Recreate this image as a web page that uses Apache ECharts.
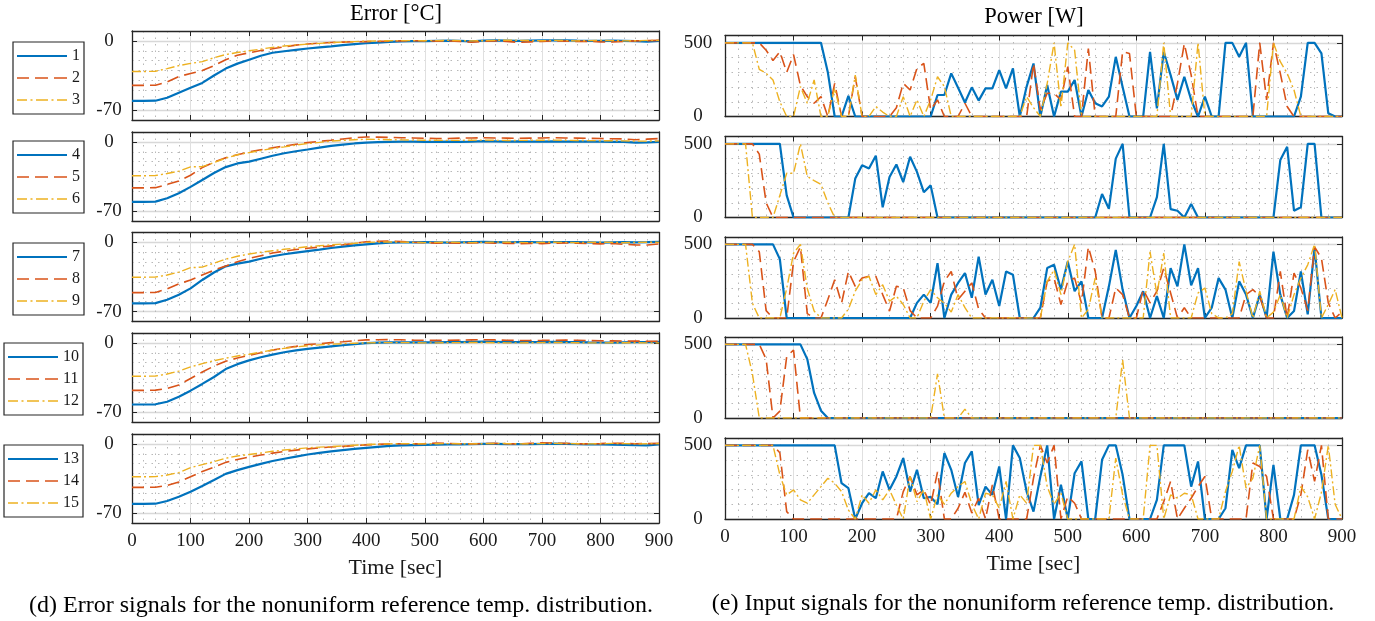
<!DOCTYPE html>
<html>
<head>
<meta charset="utf-8">
<script src="https://cdn.jsdelivr.net/npm/echarts@6/dist/echarts.min.js"></script>
<style>
  html, body { margin: 0; padding: 0; background: #fff; }
  #chart { width: 1375px; height: 621px; }
</style>
</head>
<body>
<div id="chart"></div>
<script>
const FONT = 'Liberation Serif'
const INK = '#1a1a1a'

// time bases [sec]
const errTime = [
  0, 20, 40, 60, 80, 100, 120, 140, 160, 180,
  200, 220, 240, 260, 280, 300, 320, 340, 360, 380,
  400, 420, 440, 460, 480, 500, 520, 540, 560, 580,
  600, 620, 640, 660, 680, 700, 720, 740, 760, 780,
  800, 820, 840, 860, 880,
  900]
const powTime = [
  0, 10, 20, 30, 40, 50, 60, 70, 80, 90,
  100, 110, 120, 130, 140, 150, 160, 170, 180, 190,
  200, 210, 220, 230, 240, 250, 260, 270, 280, 290,
  300, 310, 320, 330, 340, 350, 360, 370, 380, 390,
  400, 410, 420, 430, 440, 450, 460, 470, 480, 490,
  500, 510, 520, 530, 540, 550, 560, 570, 580, 590,
  600, 610, 620, 630, 640, 650, 660, 670, 680, 690,
  700, 710, 720, 730, 740, 750, 760, 770, 780, 790,
  800, 810, 820, 830, 840, 850, 860, 870, 880, 890,
  900]

const errTicks = [-70, 0]
const powTicks = [0, 500]

// error signals [°C]
const err1 = [-60.7,-60.7,-60.5,-57.5,-52.5,-47.5,-42.5,-35,-28,-23, -19,-15,-12,-10.5,-9,-7.7,-6.6,-5.5,-4.2,-3.2, -2.4,-1.8,-1,-0.5,-0.3,-0.2,0,0.2,0,-0.5, 0.3,0.5,0.3,0,0.3,0.5,0.6,0.5,0.2,0, 0,0.3,0,-0.3,-0.8, 0]
const err2 = [-45,-45,-44.8,-41.5,-36,-33,-30,-25,-19,-14.5, -12,-9.8,-8,-6,-4.3,-3.2,-2.3,-1.6,-1.2,-0.9, -0.7,-0.5,-0.3,0,0.2,0,-0.3,0,-0.5,-1.3, -0.5,0,-0.5,-1.5,-1,-0.5,0,-0.2,-0.5,-0.5, -1,-1.2,-0.5,0,0.3, 0.5]
const err3 = [-31,-31,-30.7,-28,-25,-22.8,-21,-17,-13.8,-11.8, -10,-8.3,-6.6,-5.2,-4.1,-3.3,-2.5,-1.8,-1.2,-0.7, -0.3,0,0.2,0.3,0.3,0.2,0.3,0.5,0.3,0, 0.2,0.5,0.8,0.5,0.3,0.2,0.5,0.3,0,0.3, 0.5,0.3,0,0.2,0.5, 0.5]
const err4 = [-60.6,-60.6,-60.4,-57,-52,-45.5,-38.5,-31.5,-25.5,-21.8, -20,-17,-14,-11.5,-9.5,-7.7,-5.8,-4,-2.8,-1.6, -0.7,-0.3,0,0.3,0.2,0,0,0.2,0,0.3, 0.7,0.5,0.3,0.5,0.3,0.3,0.5,0.3,0.5,0.3, 0.2,0,0,-0.7,-0.5, 0]
const err5 = [-46.5,-46.5,-46.3,-43,-39.5,-33.7,-26,-20.5,-16,-13, -10.1,-8,-6,-4.2,-2.4,-0.7,0.5,1.7,3,4.3, 5,4.8,4.5,4.2,4,3.7,3.4,3.5,3.8,4, 4.2,4,3.8,3.6,3.8,4,4.2,4,3.8,3.6, 3.4,3.2,3,2.2,2.8, 3.4]
const err6 = [-34.3,-34.3,-34,-32,-29.5,-25.3,-25,-21,-16.5,-13, -10.8,-8.7,-6.7,-5,-3.2,-1.7,-0.5,0.8,1.5,2.2, 2.7,2.5,2.2,2,1.8,1.7,1.6,1.5,1.5,1.7, 1.8,1.6,1.4,1.5,1.6,1.7,1.8,1.6,1.4,1.3, 1.2,1.2,1,0.8,0.8, 1]
const err7 = [-61.6,-61.6,-61.4,-58,-53,-46.5,-38,-30.5,-24.2,-21.5, -19.5,-16.5,-14,-12,-10.3,-8.8,-7.3,-5.7,-4.3,-3.1, -2,-1,-0.2,0,0,0.2,0,-0.3,0,0.3, 0.5,0.3,0,0.2,0.3,0,0.2,0.3,0.2,0, -0.2,0,0.2,0,0.2, 0.5]
const err8 = [-50.8,-50.8,-50.6,-47,-42,-38,-33,-28,-24,-19.5, -16.2,-13.5,-10.8,-8.8,-7.2,-6,-4.8,-3.5,-2.4,-1, 0.7,1.2,1.3,0.8,0.2,-0.3,-0.7,-0.5,-0.8,-0.5, -0.3,-0.8,-1,-1.3,-1,-1.2,-0.8,-0.5,-0.8,-1.2, -1.5,-1.2,-2,-2.5,-2.7, -1.5]
const err9 = [-35.2,-35.2,-35,-33,-30,-25.6,-25,-21,-17,-14, -11.8,-10,-8.5,-7,-5.7,-4.4,-3.4,-2.5,-1.7,-0.9, 0,0.3,0.5,0.3,0,-0.2,0,0.2,0,-0.2, 0,0.3,0.2,0,-0.3,0,0.2,0,-0.2,0, 0.2,0,-0.3,0,0.2, 0]
const err10 = [-62.3,-62.3,-62.1,-59.5,-54.5,-48.3,-41.5,-34.5,-26.5,-21.5, -17.7,-14.5,-11.8,-9.5,-7.6,-6,-4.7,-3.5,-2.4,-1.3, -0.3,0.2,0.5,0.6,0.5,0.5,0.6,0.7,0.8,1, 1.2,1,0.8,0.7,0.8,0.8,1,0.8,0.7,0.5, 0.4,0.3,0.5,0.7,0.8, 1]
const err11 = [-48,-48,-47.8,-46,-42.5,-36,-29.5,-23.5,-18.5,-15.3, -12.7,-10,-7.3,-5.2,-3.5,-1.7,-0.8,0.3,1.2,2.2, 3,3.2,3.3,3.1,2.8,2.6,2.5,2.6,2.8,3, 3.2,3,2.7,2.5,2.4,2.5,2.7,2.8,2.6,2.3, 2.1,2,1.9,1.8,1.7, 1.5]
const err12 = [-33.7,-33.7,-33.5,-31.5,-28.5,-24.3,-21,-18,-15.5,-13.2, -11.5,-9.3,-7.2,-5.5,-4,-2.9,-2,-1.3,-0.8,-0.3, 0,0.2,0.3,0.3,0.2,0,0,0.2,0.3,0.5, 0.4,0.2,0,0,0.2,0.3,0.4,0.3,0.2,0, 0,0.1,0.2,0.2,0, 0]
const err13 = [-60.7,-60.7,-60.5,-57.8,-53.5,-48.3,-42.5,-36.5,-30.3,-26.5, -23.3,-20.2,-17.3,-15,-12.8,-10.7,-9,-7.5,-6.3,-5.1, -4,-3,-2.1,-1.6,-1.3,-1,-0.8,-0.6,-0.5,-0.3, 0,0,-0.2,-0.3,-0.2,0,0.2,0,-0.3,-0.5, -0.5,-0.8,-1,-1.3,-1.5, -0.5]
const err14 = [-44,-44,-43.8,-42,-38.5,-33.3,-28,-23.5,-18.7,-15.7, -13.3,-11.3,-9.3,-7.7,-6.3,-5,-4,-3.2,-2.5,-1.7, -1,-0.5,0,0.2,0,0.3,0.8,0.5,0.2,0, 0.3,0.5,0.2,0,0.5,1,0.8,0.5,0.2,0, 0.3,0.7,0.5,0.2,0.3, 0.5]
const err15 = [-33.3,-33.3,-33.1,-31.5,-29,-24,-21,-18,-14.5,-12.2, -10.7,-9.2,-7.5,-6.2,-5,-4,-3.3,-2.7,-2.1,-1.4, -0.7,-0.3,0,0.3,0.2,0,0.2,0.3,0.2,0, 0.2,0.4,0.3,0,0.2,0.3,0.5,0.4,0.2,0, 0.2,0.5,0.3,0,0.2, 0.3]

// input power [W]
const pow1 = [
  500,500,500,500,500,500,500,500,500,500,
  500,500,500,500,500,300,0,0,140,0,
  0,0,0,0,0,0,0,0,0,0,
  0,146,146,293,195,95,198,108,191,191,
  315,191,327,0,203,360,0,214,0,169,
  169,248,0,180,90,68,135,405,200,0,
  0,0,439,56,439,281,113,270,113,0,
  135,0,0,500,500,405,500,0,0,0,
  0,0,0,0,135,500,500,428,22,0,
  0]
const pow2 = [
  500,500,500,500,500,500,450,380,440,300,
  420,210,135,90,135,0,225,0,0,270,
  0,0,0,0,0,60,225,180,327,360,
  45,113,0,0,0,90,0,0,0,0,
  0,0,0,0,0,360,45,158,158,113,
  338,0,0,462,0,0,0,0,440,428,
  0,0,0,0,0,0,225,495,281,0,
  0,0,0,0,0,0,0,0,500,113,
  500,293,68,0,0,0,0,0,0,0,
  0]
const pow3 = [
  500,500,500,500,500,320,293,248,100,0,
  0,203,90,248,0,0,191,0,0,281,
  0,0,68,30,0,0,135,0,113,0,
  113,270,203,0,0,0,0,0,0,0,
  0,0,0,0,135,60,0,225,500,60,
  500,450,0,0,0,0,0,0,0,0,
  0,0,0,0,500,0,0,0,0,500,
  0,0,0,0,0,0,0,0,0,0,
  500,372,293,180,0,0,0,0,0,0,
  0]
const pow4 = [
  500,500,500,500,500,500,500,500,500,150,
  0,0,0,0,0,0,0,0,0,264,
  355,333,420,69,275,360,241,413,310,172,
  218,0,0,0,0,0,0,0,0,0,
  0,0,0,0,0,0,0,0,0,0,
  0,0,0,0,0,160,60,400,500,0,
  0,0,0,138,500,57,46,0,92,0,
  0,0,0,0,0,0,0,0,0,0,
  0,390,480,46,69,500,500,0,0,0,
  0]
const pow5 = [
  500,500,500,500,500,430,100,0,0,0,
  0,0,0,0,0,0,0,0,0,0,
  0,0,0,0,0,0,0,0,0,0,
  0,0,0,0,0,0,0,0,0,0,
  0,0,0,0,0,0,0,0,0,0,
  0,0,0,0,0,0,0,0,0,0,
  0,0,0,0,0,0,0,0,0,0,
  0,0,0,0,0,0,0,0,0,0,
  0,0,0,0,0,0,0,0,0,0,
  0]
const pow6 = [
  500,500,500,500,0,0,0,0,150,300,
  300,500,280,250,225,100,0,0,0,0,
  0,0,0,0,0,0,0,0,0,0,
  0,0,0,0,0,0,0,0,0,0,
  0,0,0,0,0,0,0,0,0,0,
  0,0,0,0,0,0,0,0,0,0,
  0,0,0,0,0,0,0,0,0,0,
  0,0,0,0,0,0,0,0,0,0,
  0,0,0,0,0,0,0,0,0,0,
  0]
const pow7 = [
  500,500,500,500,500,500,500,500,400,0,
  0,0,0,0,0,0,0,0,0,0,
  0,0,0,0,0,0,0,0,103,159,
  103,372,0,159,238,305,137,417,160,260,
  81,316,294,0,0,0,70,339,361,193,
  383,182,249,0,0,0,215,462,193,0,
  81,182,0,148,0,339,215,500,222,339,
  0,70,271,193,0,249,159,0,159,0,
  450,159,0,47,316,25,478,0,0,0,
  0]
const pow8 = [
  500,500,500,500,500,450,50,0,0,0,
  383,483,30,0,0,125,260,100,316,215,
  271,283,283,159,47,215,204,50,0,0,
  0,80,250,316,125,182,238,60,0,0,
  0,0,0,0,0,0,0,249,271,92,
  249,271,100,483,316,0,0,204,159,0,
  0,193,103,182,339,170,0,70,0,0,
  0,0,0,0,0,0,159,193,148,0,
  0,316,0,305,204,50,483,406,103,0,
  40]
const pow9 = [
  500,500,500,500,100,0,0,0,0,200,
  440,500,200,47,0,0,0,0,60,182,
  260,283,159,226,114,148,92,0,0,114,
  193,137,100,40,159,70,0,0,0,0,
  0,0,0,0,0,0,0,249,327,159,
  383,500,0,58,271,0,0,0,0,0,
  0,0,450,159,440,0,0,0,0,170,
  204,30,0,0,30,383,182,0,182,0,
  40,159,0,159,271,361,500,0,92,193,
  0]
const pow10 = [
  500,500,500,500,500,500,500,500,500,500,
  500,500,400,170,50,0,0,0,0,0,
  0,0,0,0,0,0,0,0,0,0,
  0,0,0,0,0,0,0,0,0,0,
  0,0,0,0,0,0,0,0,0,0,
  0,0,0,0,0,0,0,0,0,0,
  0,0,0,0,0,0,0,0,0,0,
  0,0,0,0,0,0,0,0,0,0,
  0,0,0,0,0,0,0,0,0,0,
  0]
const pow11 = [
  500,500,500,500,500,500,400,0,47,417,
  462,0,0,0,0,0,0,0,0,0,
  0,0,0,0,0,0,0,0,0,0,
  0,0,0,0,0,0,0,0,0,0,
  0,0,0,0,0,0,0,0,0,0,
  0,0,0,0,0,0,0,0,0,0,
  0,0,0,0,0,0,0,0,0,0,
  0,0,0,0,0,0,0,0,0,0,
  0,0,0,0,0,0,0,0,0,0,
  0]
const pow12 = [
  500,500,500,500,300,0,0,0,0,0,
  0,0,0,0,0,0,0,0,0,0,
  0,0,0,0,0,0,0,0,0,0,
  0,300,0,0,0,60,0,0,0,0,
  0,0,0,0,0,0,0,0,0,0,
  0,0,0,0,0,0,0,0,395,0,
  0,0,0,0,0,0,0,0,0,0,
  0,0,0,0,0,0,0,0,0,0,
  0,0,0,0,0,0,0,0,0,0,
  0]
const pow13 = [
  500,500,500,500,500,500,500,500,500,500,
  500,500,500,500,500,500,500,243,209,0,
  107,175,141,323,198,289,414,186,334,141,
  150,100,448,334,150,380,459,95,220,164,
  357,0,500,414,186,50,289,500,0,232,
  0,311,391,0,0,402,500,500,300,0,
  0,0,0,130,500,500,500,500,220,391,
  0,0,0,73,470,345,500,500,500,0,
  368,0,0,164,500,500,500,300,0,0,
  0]
const pow14 = [
  500,500,500,500,500,500,500,500,450,50,
  0,0,0,0,0,0,0,0,0,0,
  0,0,0,0,0,0,186,289,164,198,
  95,320,0,0,73,182,40,141,0,232,
  0,0,0,0,0,277,500,380,500,0,
  152,107,0,0,0,0,0,0,0,0,
  0,0,0,0,118,255,0,73,141,220,
  289,0,0,0,0,0,0,380,357,289,
  0,0,0,0,164,470,255,500,0,0,
  0]
const pow15 = [
  500,500,500,500,500,500,500,500,300,164,
  198,130,107,164,220,277,243,186,61,0,
  164,107,198,130,198,95,0,289,118,198,
  0,164,100,175,220,255,100,0,175,164,
  73,255,0,164,107,500,500,220,100,175,
  0,0,0,0,0,0,0,414,164,0,
  0,0,500,500,0,164,141,175,164,0,
  0,0,0,186,323,500,209,277,500,0,
  0,0,0,0,220,150,0,180,500,100,
  0]

const errGroups = [[err1, err2, err3], [err4, err5, err6], [err7, err8, err9], [err10, err11, err12], [err13, err14, err15]]
const powGroups = [[pow1, pow2, pow3], [pow4, pow5, pow6], [pow7, pow8, pow9], [pow10, pow11, pow12], [pow13, pow14, pow15]]

const LINE_STYLES = [
  { color: '#0072BD', width: 2.2, type: 'solid' },
  { color: '#D95319', width: 1.6, type: [12, 6] },
  { color: '#EDB120', width: 1.4, type: [9, 3, 2, 3] },
]

// legend swatches (50 x 14 box): dash segments along the middle
const SWATCH_SEGMENTS = [
  [[0, 50]],
  [[0, 12], [18, 31], [37, 50]],
  [[0, 10], [13.5, 15.5], [19, 31], [34.5, 36.5], [40, 50]],
]
const swatch = (segs, w) => 'path://M0,0M50,14' + segs.map(([a, b]) =>
  `M${a},${7 - w / 2}L${b},${7 - w / 2}L${b},${7 + w / 2}L${a},${7 + w / 2}Z`).join('')

const leftTops = [31, 132, 232.5, 333, 434]
const rightTops = [35.5, 136.5, 237, 337, 438]
const legendBoxes = [[13, 42], [13, 141], [13, 243], [4, 343], [4, 445]]

const grids = [], xAxes = [], yAxes = [], series = []

const BOX = { show: true, onZero: false, lineStyle: { color: '#262626', width: 1.3 } }
const tickStyle = { inside: true, length: 5, lineStyle: { color: '#262626', width: 1 } }
const dotted = { color: '#b8b8b8', width: 1, type: [1.5, 5] }

function addPanel(p) {
  const g = grids.length
  grids.push({
    left: p.left, top: p.top, width: p.width, height: p.height,
    show: false, outerBoundsMode: 'none',
  })
  const xi = xAxes.length
  xAxes.push({
    gridIndex: g, type: 'value', position: 'bottom', min: 0, max: 900, interval: 100,
    axisLine: BOX, axisTick: tickStyle,
    axisLabel: { show: p.bottom, margin: 9, fontFamily: FONT, fontSize: 19, color: INK },
    splitLine: { show: true, lineStyle: { color: '#e0e0e0', width: 1 } },
    minorTick: { show: false, splitNumber: 5 },
    minorSplitLine: { show: true, lineStyle: dotted },
    name: p.bottom ? 'Time [sec]' : '',
    nameLocation: 'middle', nameGap: 34,
    nameTextStyle: { fontFamily: FONT, fontSize: 22, color: INK },
    z: 1,
  }, {
    gridIndex: g, type: 'value', position: 'top', min: 0, max: 900, interval: 100,
    axisLine: BOX, axisTick: tickStyle,
    axisLabel: { show: false }, splitLine: { show: false }, z: 1,
  })
  const yi = yAxes.length
  yAxes.push({
    gridIndex: g, type: 'value', position: 'left', min: p.min, max: p.max,
    axisLine: BOX,
    axisTick: Object.assign({ customValues: p.ticks }, tickStyle),
    axisLabel: { customValues: p.ticks, align: 'center', margin: p.labelGap, fontFamily: FONT, fontSize: 19, color: INK },
    splitLine: { show: true, lineStyle: { color: '#d8d8d8', width: 1.3 } },
    z: 1,
  }, {
    gridIndex: g, type: 'value', position: 'left', min: p.min, max: p.max, interval: p.minorStep,
    axisLine: { show: false }, axisTick: { show: false }, axisLabel: { show: false },
    splitLine: { show: true, lineStyle: dotted },
    z: 0,
  }, {
    gridIndex: g, type: 'value', position: 'right', min: p.min, max: p.max,
    axisLine: BOX,
    axisTick: Object.assign({ customValues: p.ticks }, tickStyle),
    axisLabel: { show: false }, splitLine: { show: false }, z: 1,
  })
  p.lines.forEach((vals, k) => {
    series.push({
      type: 'line', name: p.names[k], xAxisIndex: xi, yAxisIndex: yi,
      data: p.time.map((t, j) => [t, vals[j]]),
      symbol: 'none', lineStyle: LINE_STYLES[k], itemStyle: { color: LINE_STYLES[k].color },
      emphasis: { disabled: true }, z: 3 + k,
    })
  })
}

for (let i = 0; i < 5; i++) {
  const names = [1, 2, 3].map(k => String(3 * i + k))
  addPanel({
    left: 132, top: leftTops[i], width: 527, height: 89,
    min: -80, max: 10, minorStep: 10, ticks: errTicks, labelGap: 23,
    bottom: i === 4, time: errTime, lines: errGroups[i], names,
  })
  addPanel({
    left: 725, top: rightTops[i], width: 617, height: 81,
    min: 0, max: 550, minorStep: 100, ticks: powTicks, labelGap: 27,
    bottom: i === 4, time: powTime, lines: powGroups[i], names: names.map(n => 'u' + n),
  })
}

const legends = legendBoxes.map(([left, top], i) => ({
  data: [0, 1, 2].map(k => ({
    name: String(3 * i + k + 1),
    icon: swatch(SWATCH_SEGMENTS[k], LINE_STYLES[k].width),
    itemStyle: { color: LINE_STYLES[k].color, opacity: 1, borderWidth: 0 },
  })),
  orient: 'vertical', left, top,
  itemWidth: 50, itemHeight: 14, itemGap: 6,
  padding: [6, 4, 6, 4],
  backgroundColor: '#fff', borderColor: '#262626', borderWidth: 1.2, borderRadius: 0,
  selectedMode: false,
  textStyle: { fontFamily: FONT, fontSize: 16, color: INK },
}))

const label = (text, x, y, size) => ({
  type: 'text', x, y, silent: true,
  style: { text, fontFamily: FONT, fontSize: size, fill: '#000', align: 'center', verticalAlign: 'middle' },
})

const chart = echarts.init(document.getElementById('chart'), null, { renderer: 'canvas' })
chart.setOption({
  animation: false,
  backgroundColor: '#fff',
  grid: grids,
  xAxis: xAxes,
  yAxis: yAxes,
  legend: legends,
  series,
  graphic: [
    label('Error [°C]', 396, 14, 22.5),
    label('Power [W]', 1034, 17, 22.5),
    label('(d) Error signals for the nonuniform reference temp. distribution.', 341, 606, 24),
    label('(e) Input signals for the nonuniform reference temp. distribution.', 1023, 604, 24),
  ],
})
window.addEventListener('resize', () => chart.resize())
</script>
</body>
</html>
